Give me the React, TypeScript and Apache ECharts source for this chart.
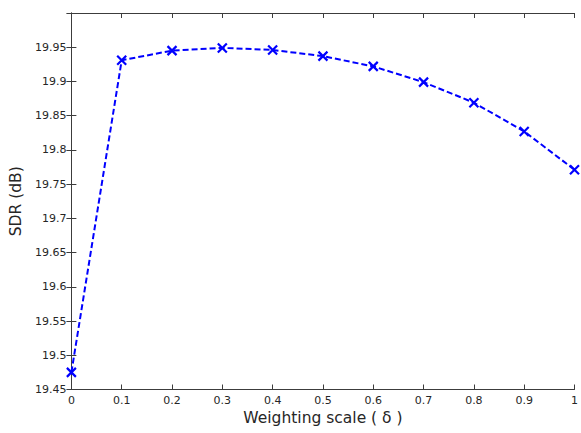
import React, { useEffect, useRef } from "react";
import * as echarts from "echarts";

const xValues = [0, 0.1, 0.2, 0.3, 0.4, 0.5, 0.6, 0.7, 0.8, 0.9, 1.0];
const sdrValues = [19.475, 19.931, 19.945, 19.949, 19.946, 19.937, 19.922, 19.899, 19.869, 19.827, 19.771];
const xTitle = "Weighting scale ( δ )";
const yTitle = "SDR (dB)";

const FONT = "'DejaVu Sans', 'Liberation Sans', sans-serif";
const AXIS = "#3c3c3c";
const TEXT = "#262626";

export default function App() {
  const ref = useRef<HTMLDivElement>(null);
  useEffect(() => {
    if (!ref.current) return;
    const chart = echarts.init(ref.current, undefined, { renderer: "svg" });
    const tickCommon = {
      axisLine: { show: true, lineStyle: { color: AXIS, width: 1 } },
      axisTick: { show: true, inside: true, length: 5, lineStyle: { color: AXIS } },
      splitLine: { show: false },
    };
    chart.setOption({
      animation: false,
      backgroundColor: "#ffffff",
      grid: { left: 70.5, right: 1, top: 13, bottom: 43.5, containLabel: false },
      xAxis: [
        {
          type: "value",
          min: 0,
          max: 1,
          interval: 0.1,
          position: "bottom",
          ...tickCommon,
          axisLabel: { color: TEXT, fontSize: 11, fontFamily: FONT, margin: 5 },
          name: xTitle,
          nameLocation: "middle",
          nameGap: 20,
          nameTextStyle: { color: TEXT, fontSize: 15.5, fontFamily: FONT },
        },
        {
          type: "value",
          min: 0,
          max: 1,
          interval: 0.1,
          position: "top",
          ...tickCommon,
          axisLabel: { show: false },
        },
      ],
      yAxis: [
        {
          type: "value",
          min: 19.45,
          max: 20,
          interval: 0.05,
          position: "left",
          ...tickCommon,
          axisLabel: {
            color: TEXT,
            fontSize: 11,
            fontFamily: FONT,
            margin: 5,
            formatter: (v: number) => (Math.abs(v - 20) < 1e-6 ? "" : String(parseFloat(v.toFixed(2)))),
          },
          name: yTitle,
          nameLocation: "middle",
          nameGap: 43,
          nameTextStyle: { color: TEXT, fontSize: 15.5, fontFamily: FONT },
        },
        {
          type: "value",
          min: 19.45,
          max: 20,
          interval: 0.05,
          position: "right",
          ...tickCommon,
          axisLabel: { show: false },
        },
      ],
      series: [
        {
          type: "line",
          data: xValues.map((x, i) => [x, sdrValues[i]]),
          xAxisIndex: 0,
          yAxisIndex: 0,
          symbol: "path://M0 0 L10 10 M10 0 L0 10",
          symbolSize: 9,
          showSymbol: true,
          itemStyle: { color: "transparent", borderColor: "#0000ff", borderWidth: 2.2 },
          lineStyle: { color: "#0000ff", width: 2, type: [6, 3] },
          emphasis: { disabled: true },
        },
      ],
    });
    return () => chart.dispose();
  }, []);
  return (
    <div
      ref={ref}
      style={{ position: "fixed", left: 0, top: 0, width: 581, height: 433, background: "#fff" }}
    />
  );
}
